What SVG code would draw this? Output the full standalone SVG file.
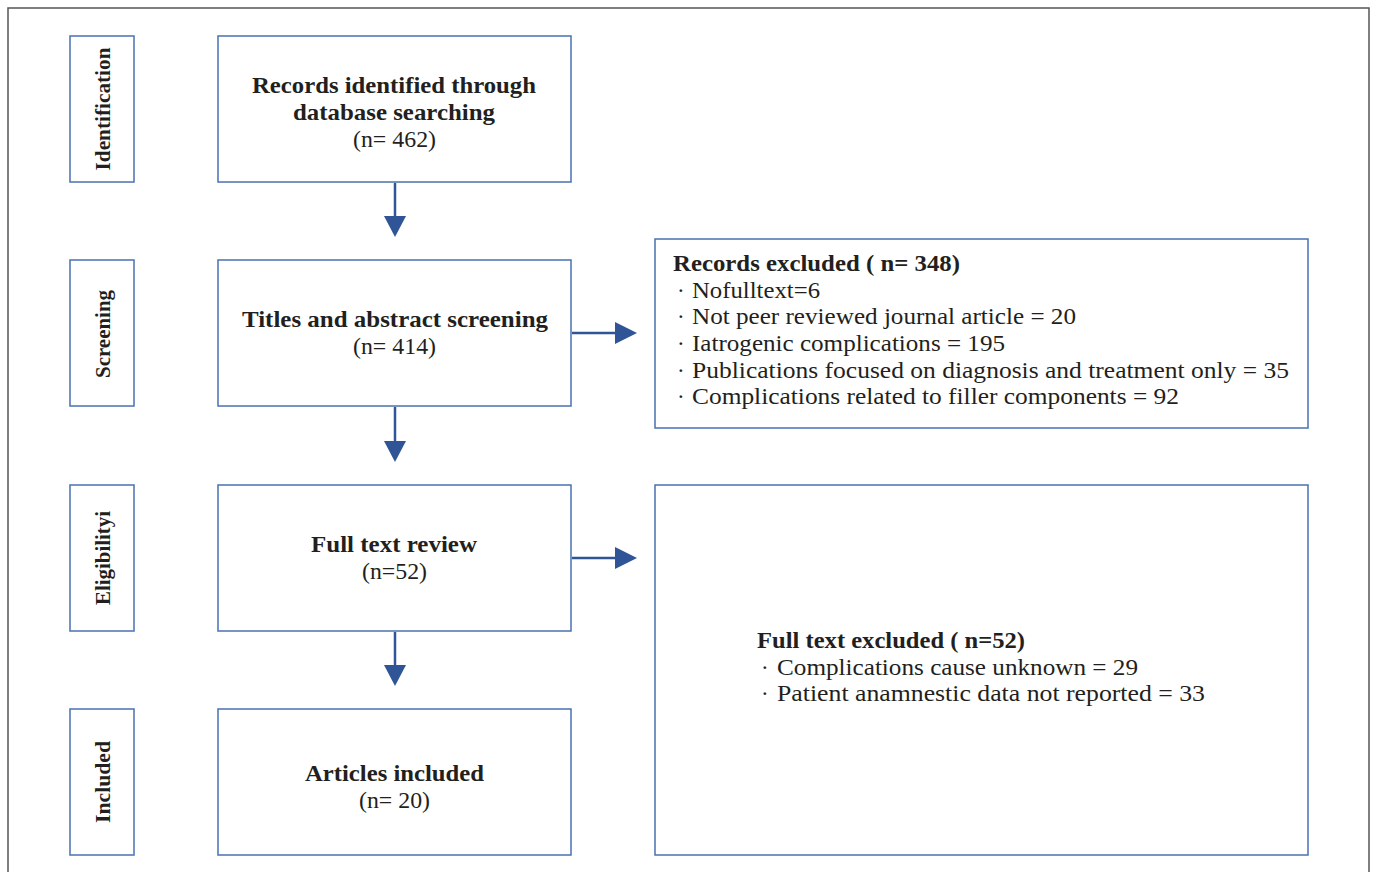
<svg xmlns="http://www.w3.org/2000/svg" width="1375" height="872" viewBox="0 0 1375 872">
<style>
.box{fill:#fff;stroke:#4a72b0;stroke-width:1.5}
.t{font-family:"Liberation Serif",serif;fill:#231f20}
.b{font-weight:bold}
.c{text-anchor:middle}
.m{font-size:23px}
.ph{font-size:20px;font-weight:bold}
.conn{stroke:#2f5597;stroke-width:2.5;fill:none}
</style>
<rect x="0" y="0" width="1375" height="872" fill="#fff"/>
<path d="M8,880 V8 H1369 V880" fill="none" stroke="#555" stroke-width="1.5"/>

<g id="phase-identification"><rect class="box" x="70" y="36" width="64" height="146"/><text class="t ph c" transform="translate(110,109) rotate(-90)" textLength="123" lengthAdjust="spacingAndGlyphs">Identification</text></g>
<g id="phase-screening"><rect class="box" x="70" y="260" width="64" height="146"/><text class="t ph c" transform="translate(110,334) rotate(-90)" textLength="88" lengthAdjust="spacingAndGlyphs">Screening</text></g>
<g id="phase-eligibility"><rect class="box" x="70" y="485" width="64" height="146"/><text class="t ph c" transform="translate(110,558) rotate(-90)" textLength="94" lengthAdjust="spacingAndGlyphs">Eligibilityi</text></g>
<g id="phase-included"><rect class="box" x="70" y="709" width="64" height="146"/><text class="t ph c" transform="translate(110,782) rotate(-90)" textLength="82" lengthAdjust="spacingAndGlyphs">Included</text></g>

<g id="records-identified"><rect class="box" x="218" y="36" width="353" height="146"/>
<text class="t m b" x="252" y="93" textLength="284" lengthAdjust="spacingAndGlyphs">Records identified through</text>
<text class="t m b" x="293" y="120" textLength="202" lengthAdjust="spacingAndGlyphs">database searching</text>
<text class="t m" x="353" y="147" textLength="83" lengthAdjust="spacingAndGlyphs">(n= 462)</text></g>

<g id="screening"><rect class="box" x="218" y="260" width="353" height="146"/>
<text class="t m b" x="242" y="327" textLength="306" lengthAdjust="spacingAndGlyphs">Titles and abstract screening</text>
<text class="t m" x="353" y="354" textLength="83" lengthAdjust="spacingAndGlyphs">(n= 414)</text></g>

<g id="full-text-review"><rect class="box" x="218" y="485" width="353" height="146"/>
<text class="t m b" x="311" y="552" textLength="166" lengthAdjust="spacingAndGlyphs">Full text review</text>
<text class="t m" x="362" y="579" textLength="65" lengthAdjust="spacingAndGlyphs">(n=52)</text></g>

<g id="articles-included"><rect class="box" x="218" y="709" width="353" height="146"/>
<text class="t m b" x="305" y="781" textLength="179" lengthAdjust="spacingAndGlyphs">Articles included</text>
<text class="t m" x="359" y="808" textLength="71" lengthAdjust="spacingAndGlyphs">(n= 20)</text></g>

<g id="records-excluded"><rect class="box" x="655" y="239" width="653" height="189"/>
<text class="t m b" x="673" y="271" textLength="287" lengthAdjust="spacingAndGlyphs">Records excluded ( n= 348)</text>
<text class="t m" x="677" y="298">·</text><text class="t m" x="692" y="298" textLength="128" lengthAdjust="spacingAndGlyphs">Nofulltext=6</text>
<text class="t m" x="677" y="324">·</text><text class="t m" x="692" y="324" textLength="384" lengthAdjust="spacingAndGlyphs">Not peer reviewed journal article = 20</text>
<text class="t m" x="677" y="351">·</text><text class="t m" x="692" y="351" textLength="313" lengthAdjust="spacingAndGlyphs">Iatrogenic complications = 195</text>
<text class="t m" x="677" y="378">·</text><text class="t m" x="692" y="378" textLength="597" lengthAdjust="spacingAndGlyphs">Publications focused on diagnosis and treatment only = 35</text>
<text class="t m" x="677" y="404">·</text><text class="t m" x="692" y="404" textLength="487" lengthAdjust="spacingAndGlyphs">Complications related to filler components = 92</text></g>

<g id="full-text-excluded"><rect class="box" x="655" y="485" width="653" height="370"/>
<text class="t m b" x="757" y="648" textLength="268" lengthAdjust="spacingAndGlyphs">Full text excluded ( n=52)</text>
<text class="t m" x="761" y="675">·</text><text class="t m" x="777" y="675" textLength="361" lengthAdjust="spacingAndGlyphs">Complications cause unknown = 29</text>
<text class="t m" x="761" y="701">·</text><text class="t m" x="777" y="701" textLength="428" lengthAdjust="spacingAndGlyphs">Patient anamnestic data not reported = 33</text></g>

<g id="connectors">
<line class="conn" x1="395" y1="183" x2="395" y2="218"/>
<path d="M384,216 L406,216 L395,237 z" fill="#2f5597"/>
<line class="conn" x1="395" y1="407" x2="395" y2="442"/>
<path d="M384,441 L406,441 L395,462 z" fill="#2f5597"/>
<line class="conn" x1="395" y1="632" x2="395" y2="667"/>
<path d="M384,665 L406,665 L395,686 z" fill="#2f5597"/>
<line class="conn" x1="572" y1="333" x2="617" y2="333"/>
<path d="M615,322 L615,344 L637,333 z" fill="#2f5597"/>
<line class="conn" x1="572" y1="558" x2="617" y2="558"/>
<path d="M615,547 L615,569 L637,558 z" fill="#2f5597"/>
</g>
</svg>
